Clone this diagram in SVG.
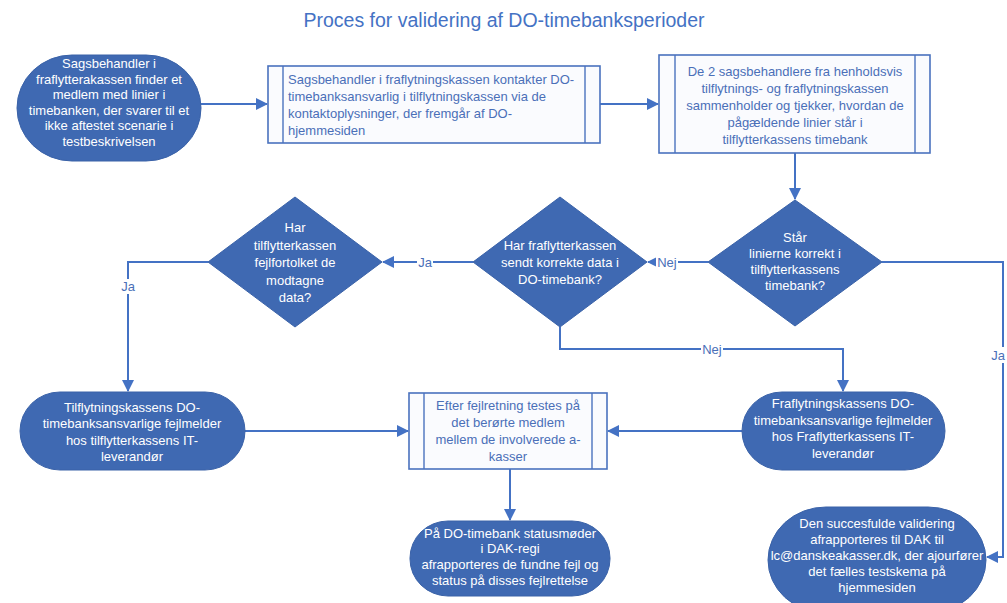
<svg xmlns="http://www.w3.org/2000/svg" width="1007" height="603" viewBox="0 0 1007 603">
<style>
.term{fill:#3F69B2;stroke:#3A62A8;stroke-width:1}
.dia{fill:#3F69B2;stroke:#3A62A8;stroke-width:1}
.box{fill:#FAFBFE;stroke:#4A72BE;stroke-width:1.6}
.inner{stroke:#4A72BE;stroke-width:1.4}
.wt{font-family:"Liberation Sans",Arial,sans-serif;font-size:13px;fill:#FFFFFF;text-anchor:middle}
.bt{font-family:"Liberation Sans",Arial,sans-serif;font-size:13px;fill:#4A6FB8}
.btc{text-anchor:middle}
.conn{fill:none;stroke:#4472C4;stroke-width:2}
.lbl{font-family:"Liberation Sans",Arial,sans-serif;font-size:13px;fill:#4A6FB8;text-anchor:middle}
.title{font-family:"Liberation Sans",Arial,sans-serif;font-size:19.5px;fill:#4472C4;text-anchor:middle}
</style>
<defs>
<marker id="arr" markerWidth="12" markerHeight="12" refX="11" refY="6" orient="auto" markerUnits="userSpaceOnUse">
<path d="M0,0 L12,6 L0,12 Z" fill="#4472C4"/>
</marker>
</defs>
<rect width="1007" height="603" fill="#FFFFFF"/>
<text class="title" x="504" y="27">Proces for validering af DO-timebanksperioder</text>

<g id="connectors">
<path class="conn" d="M201,104 L267,104" marker-end="url(#arr)"/>
<path class="conn" d="M600,104 L658,104" marker-end="url(#arr)"/>
<path class="conn" d="M795,153 L795,199" marker-end="url(#arr)"/>
<path class="conn" d="M882,262 L1003,262 L1003,557 L987,557" marker-end="url(#arr)"/>
<path class="conn" d="M708,262 L648,262" marker-end="url(#arr)"/>
<path class="conn" d="M473,262 L383,262" marker-end="url(#arr)"/>
<path class="conn" d="M208,262 L128,262 L128,391" marker-end="url(#arr)"/>
<path class="conn" d="M560,327 L560,349 L843,349 L843,391" marker-end="url(#arr)"/>
<path class="conn" d="M245,431 L408,431" marker-end="url(#arr)"/>
<path class="conn" d="M742,431 L608,431" marker-end="url(#arr)"/>
<path class="conn" d="M510,469 L510,520" marker-end="url(#arr)"/>
<rect x="991" y="347" width="16" height="16" fill="#FFFFFF"/>
<text class="lbl" x="998" y="360">Ja</text>
<rect x="656" y="255" width="22" height="15" fill="#FFFFFF"/>
<text class="lbl" x="667" y="267">Nej</text>
<rect x="417" y="255" width="16" height="15" fill="#FFFFFF"/>
<text class="lbl" x="425" y="267">Ja</text>
<rect x="120" y="279" width="16" height="15" fill="#FFFFFF"/>
<text class="lbl" x="128" y="291">Ja</text>
<rect x="701" y="342" width="22" height="15" fill="#FFFFFF"/>
<text class="lbl" x="712" y="354">Nej</text>
</g>

<g id="node-start">
<rect class="term" x="17" y="55" width="184" height="106" rx="55" ry="53"/>
<text class="wt"><tspan x="109" y="68">Sagsbehandler i</tspan><tspan x="109" y="83.5">fraflytterakassen finder et</tspan><tspan x="109" y="99">medlem med linier i</tspan><tspan x="109" y="114.5">timebanken, der svarer til et</tspan><tspan x="109" y="130">ikke aftestet scenarie i</tspan><tspan x="109" y="145.5">testbeskrivelsen</tspan></text>
</g>

<g id="node-kontakt">
<rect class="box" x="268" y="66" width="332" height="77"/>
<line class="inner" x1="283" y1="66" x2="283" y2="143"/>
<line class="inner" x1="585" y1="66" x2="585" y2="143"/>
<text class="bt"><tspan x="288" y="84">Sagsbehandler i fraflytningskassen kontakter DO-</tspan><tspan x="288" y="101">timebanksansvarlig i tilflytningskassen via de</tspan><tspan x="288" y="118">kontaktoplysninger, der fremgår af DO-</tspan><tspan x="288" y="135">hjemmesiden</tspan></text>
</g>

<g id="node-sammenhold">
<rect class="box" x="659" y="55" width="271" height="98"/>
<line class="inner" x1="675" y1="55" x2="675" y2="153"/>
<line class="inner" x1="915" y1="55" x2="915" y2="153"/>
<text class="bt btc"><tspan x="795" y="75.5">De 2 sagsbehandlere fra henholdsvis</tspan><tspan x="795" y="92.5">tilflytnings- og fraflytningskassen</tspan><tspan x="795" y="109.5">sammenholder og tjekker, hvordan de</tspan><tspan x="795" y="126.5">pågældende linier står i</tspan><tspan x="795" y="143.5">tilflytterkassens timebank</tspan></text>
</g>

<g id="node-staar">
<polygon class="dia" points="795,200 882,262 795,326 708,262"/>
<text class="wt"><tspan x="795" y="242">Står</tspan><tspan x="795" y="258">linierne korrekt i</tspan><tspan x="795" y="274">tilflytterkassens</tspan><tspan x="795" y="290">timebank?</tspan></text>
</g>

<g id="node-sendt">
<polygon class="dia" points="560,197 647,262 560,327 473,262"/>
<text class="wt"><tspan x="560" y="250">Har fraflytterkassen</tspan><tspan x="560" y="267">sendt korrekte data i</tspan><tspan x="560" y="284">DO-timebank?</tspan></text>
</g>

<g id="node-fejlfortolket">
<polygon class="dia" points="295,197 382,262 295,327 208,262"/>
<text class="wt"><tspan x="295" y="232">Har</tspan><tspan x="295" y="249.5">tilflytterkassen</tspan><tspan x="295" y="267">fejlfortolket de</tspan><tspan x="295" y="284.5">modtagne</tspan><tspan x="295" y="302">data?</tspan></text>
</g>

<g id="node-tilflyt">
<rect class="term" x="20" y="392" width="225" height="78" rx="40" ry="39"/>
<text class="wt"><tspan x="132" y="411.5">Tilflytningskassens DO-</tspan><tspan x="132" y="428">timebanksansvarlige fejlmelder</tspan><tspan x="132" y="444.5">hos tilflytterkassens IT-</tspan><tspan x="132" y="461">leverandør</tspan></text>
</g>

<g id="node-efter">
<rect class="box" x="409" y="393" width="198" height="76"/>
<line class="inner" x1="424" y1="393" x2="424" y2="469"/>
<line class="inner" x1="592" y1="393" x2="592" y2="469"/>
<text class="bt btc"><tspan x="508" y="410">Efter fejlretning testes på</tspan><tspan x="508" y="427">det berørte medlem</tspan><tspan x="508" y="444">mellem de involverede a-</tspan><tspan x="508" y="461">kasser</tspan></text>
</g>

<g id="node-fraflyt">
<rect class="term" x="742" y="392" width="203" height="78" rx="40" ry="39"/>
<text class="wt"><tspan x="843" y="408">Fraflytningskassens DO-</tspan><tspan x="843" y="424.5">timebanksansvarlige fejlmelder</tspan><tspan x="843" y="441">hos Fraflytterkassens IT-</tspan><tspan x="843" y="457.5">leverandør</tspan></text>
</g>

<g id="node-status">
<rect class="term" x="410" y="521" width="200" height="75" rx="38" ry="37"/>
<text class="wt"><tspan x="510" y="537.5">På DO-timebank statusmøder</tspan><tspan x="510" y="553">i DAK-regi</tspan><tspan x="510" y="569">afrapporteres de fundne fejl og</tspan><tspan x="510" y="585">status på disses fejlrettelse</tspan></text>
</g>

<g id="node-succes">
<rect class="term" x="768" y="507" width="218" height="106" rx="58" ry="53"/>
<text class="wt"><tspan x="877" y="527.5">Den succesfulde validering</tspan><tspan x="877" y="543.5">afrapporteres til DAK til</tspan><tspan x="877" y="559.5">lc@danskeakasser.dk, der ajourfører</tspan><tspan x="877" y="576">det fælles testskema på</tspan><tspan x="877" y="592">hjemmesiden</tspan></text>
</g>
</svg>
